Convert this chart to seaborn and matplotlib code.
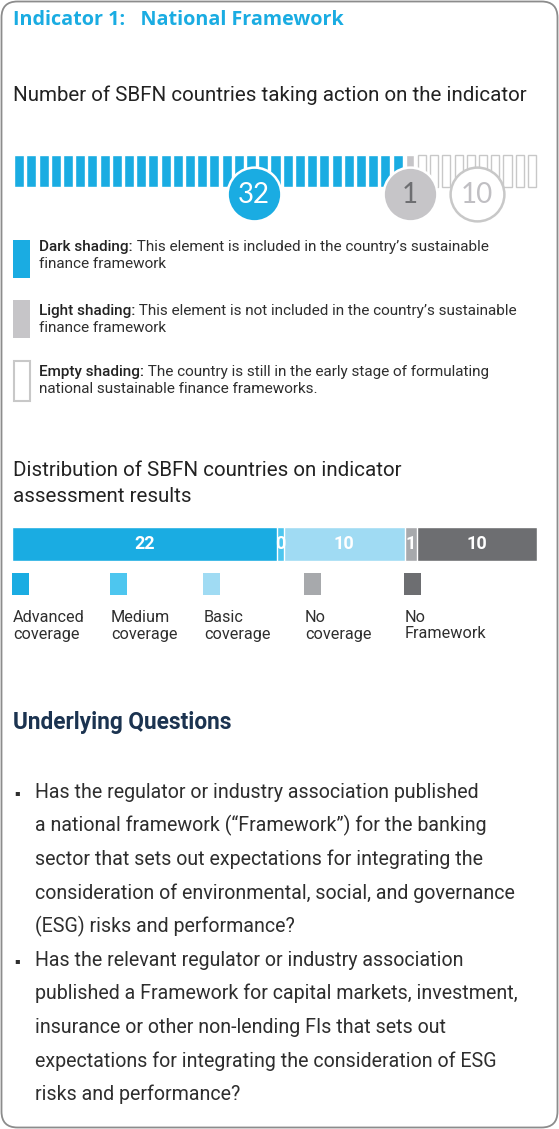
import matplotlib.pyplot as plt
import numpy as np
import pandas as pd
import seaborn as sns
from matplotlib.patches import FancyBboxPatch, Rectangle

sns.set_style("white")
plt.rcParams["font.family"] = ["Roboto", "DejaVu Sans"]

W, H = 559, 1129  # canvas in pixels

# ---------------------------------------------------------------------
# DATA
# ---------------------------------------------------------------------
waffle_status = ["Dark", "Light", "Empty"]
waffle_counts = [32, 1, 10]
waffle_palette = {"Dark": "#1aace2", "Light": "#c6c5c8", "Empty": "#ffffff"}

dist_labels = ["Advanced\ncoverage", "Medium\ncoverage", "Basic\ncoverage",
               "No\ncoverage", "No\nFramework"]
dist_counts = [22, 0, 10, 1, 10]
dist_colors = ["#1aace2", "#4dc6ef", "#a0dbf3", "#a7a9ac", "#6d6e71"]

legend_bold = ["Dark shading:", "Light shading:", "Empty shading:"]
legend_rest = [
    ["This element is included in the country\u2019s sustainable", "finance framework"],
    ["This element is not included in the country\u2019s sustainable", "finance framework"],
    ["The country is still in the early stage of formulating",
     "national sustainable finance frameworks."],
]

questions = [
    ["Has the regulator or industry association published",
     "a national framework (\u201cFramework\u201d) for the banking",
     "sector that sets out expectations for integrating the",
     "consideration of environmental, social, and governance",
     "(ESG) risks and performance?"],
    ["Has the relevant regulator or industry association",
     "published a Framework for capital markets, investment,",
     "insurance or other non-lending FIs that sets out",
     "expectations for integrating the consideration of ESG",
     "risks and performance?"],
]

CYAN = "#1aace2"
TXT = "#2e2e2e"


def box(x0, y0, x1, y1):
    # pixel box (top-left origin) -> figure fraction
    return [x0 / W, 1 - y1 / H, (x1 - x0) / W, (y1 - y0) / H]


fig = plt.figure(figsize=(W / 100, H / 100), dpi=100)

# background / text layer in pixel coordinates
bg = fig.add_axes([0, 0, 1, 1], zorder=0)
bg.set_xlim(0, W)
bg.set_ylim(H, 0)
bg.axis("off")

bg.add_patch(FancyBboxPatch((1.5, 1.5), W - 3, H - 3,
                            boxstyle="round,pad=0,rounding_size=16",
                            fc="none", ec="#8c8c8c", lw=1.3))

bg.text(13, 20, "Indicator 1:   National Framework", color=CYAN, fontsize=14.2,
        fontweight="bold", family=["Open Sans", "DejaVu Sans"], va="center")
bg.text(13, 95, "Number of SBFN countries taking action on the indicator",
        color="#222222", fontsize=14.8, va="center")

# ---------------------------------------------------------------------
# WAFFLE ROW
# ---------------------------------------------------------------------
status = np.repeat(waffle_status, waffle_counts)
wdf = pd.DataFrame({"slot": np.arange(len(status)), "h": 1.0, "status": status})

ax_w = fig.add_axes(box(13, 155, 538, 187), zorder=2)
sns.barplot(data=wdf, x="slot", y="h", hue="status", hue_order=waffle_status,
            palette=waffle_palette, dodge=False, width=0.82, saturation=1,
            legend=False, ax=ax_w)
for bar in ax_w.containers[1]:
    bar.set_x(bar.get_x() + 0.07)
    bar.set_width(bar.get_width() - 0.14)
for bar in ax_w.containers[2]:
    bar.set_x(bar.get_x() + 0.08)
    bar.set_width(bar.get_width() - 0.16)
    bar.set_edgecolor("#c8c8c8")
    bar.set_linewidth(1.0)
    bar.set_clip_on(False)
ax_w.set_xlim(-0.5, len(status) - 0.5)
ax_w.set_ylim(0, 1)
ax_w.axis("off")

starts = np.concatenate([[0], np.cumsum(waffle_counts)[:-1]])
centers = starts + (np.array(waffle_counts) - 1) / 2
centers[0] = starts[0] + waffle_counts[0] * 0.6
badge_face = ["#1aace2", "#c6c5c8", "#ffffff"]
badge_edge = ["#ffffff", "#ffffff", "#c8c8c8"]
badge_txt = ["#ffffff", "#6d6e71", "#c0bfc3"]
for cx, n, fc, ec, tc in zip(centers, waffle_counts, badge_face, badge_edge, badge_txt):
    ax_w.scatter([cx], [-0.22], s=1500, c=fc, edgecolors=ec, linewidths=1.8,
                 zorder=5, clip_on=False)
    ax_w.text(cx, -0.24, str(n), ha="center", va="center", fontsize=20,
              color=tc, family=["Lato", "DejaVu Sans"], zorder=6)

# waffle legend
bg.add_patch(Rectangle((13, 240), 17, 38, fc=CYAN, ec="none"))
bg.add_patch(Rectangle((13, 300), 17, 38, fc="#c6c5c8", ec="none"))
bg.add_patch(Rectangle((13.5, 361), 16, 40, fc="white", ec="#c8c8c8", lw=1.5))
for i, (b, rest) in enumerate(zip(legend_bold, legend_rest)):
    y0 = [247, 311, 372][i]
    t = bg.text(39, y0, b, fontsize=11, fontweight="medium", color="#222222", va="center")
    bg.annotate(" " + rest[0], xy=(1, 0), xycoords=t, va="bottom", ha="left",
                fontsize=11, color=TXT)
    bg.text(39, y0 + 17, rest[1], fontsize=11, color=TXT, va="center")

# ---------------------------------------------------------------------
# DISTRIBUTION BAR
# ---------------------------------------------------------------------
bg.text(13, 471, "Distribution of SBFN countries on indicator", color="#222222",
        fontsize=14.8, va="center")
bg.text(13, 496, "assessment results", color="#222222", fontsize=14.8, va="center")

disp = np.maximum(dist_counts, 0.6)
cum = np.cumsum(disp)
ax_d = fig.add_axes(box(12, 527, 537, 561), zorder=2)
for i in reversed(range(len(dist_counts))):
    sns.barplot(x=[cum[i]], y=[""], orient="h", color=dist_colors[i], width=1,
                saturation=1, ax=ax_d)
for c, v in zip(cum - disp / 2, dist_counts):
    ax_d.text(c, 0, str(v), ha="center", va="center", color="white",
              fontsize=13, fontweight="bold")
ax_d.set_xlim(0, cum[-1])
ax_d.set_ylim(0.5, -0.5)
ax_d.axis("off")

for x, lab, col in zip([12, 110, 203, 304, 404], dist_labels, dist_colors):
    bg.add_patch(Rectangle((x, 573), 17, 22, fc=col, ec="none"))
    for k, line in enumerate(lab.split("\n")):
        bg.text(x + 1, 617 + 17 * k, line, fontsize=11.7, color=TXT, va="center")

# ---------------------------------------------------------------------
# UNDERLYING QUESTIONS
# ---------------------------------------------------------------------
bg.text(13, 723, "Underlying Questions", color="#1b3350", fontsize=16.3,
        fontweight="bold", va="center")
y = 792
for q in questions:
    bg.text(17, y + 1, "\u25aa", fontsize=6, color=TXT, va="center", ha="center",
            family=["DejaVu Sans"])
    for line in q:
        bg.text(35, y, line, fontsize=14.1, color=TXT, va="center")
        y += 33.6

fig.savefig("out.png", dpi=100)
